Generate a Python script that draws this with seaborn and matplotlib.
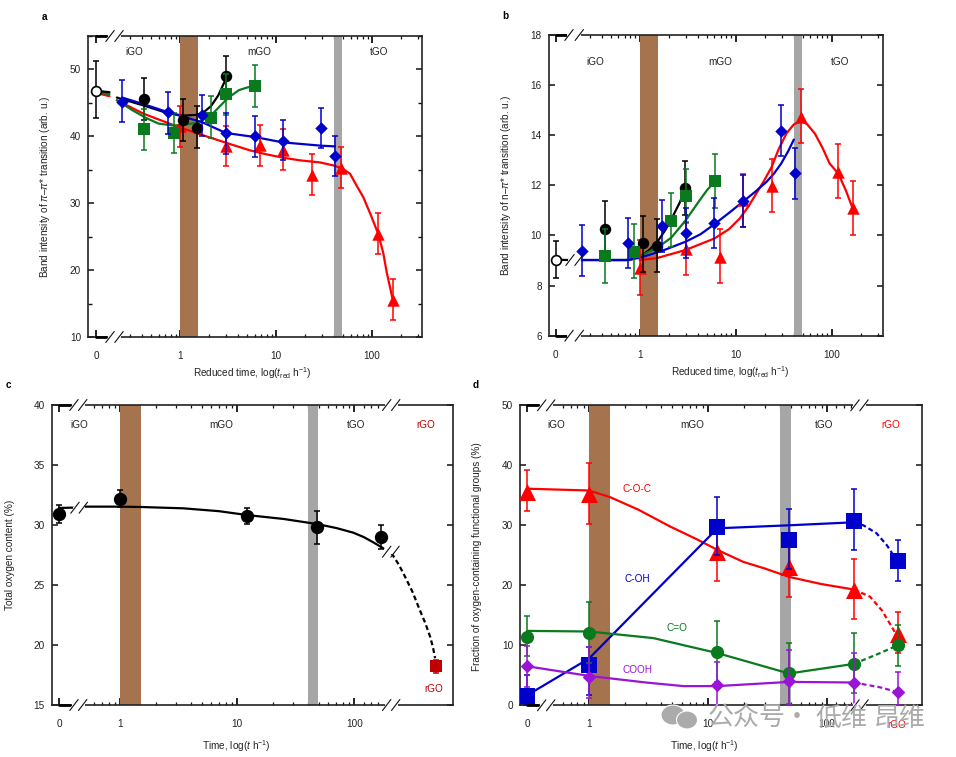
"""Oxygen content and band intensity panels for GO reduction, broken log time axes."""
import numpy as np
import matplotlib.pyplot as plt
import seaborn as sns
from matplotlib.lines import Line2D
from matplotlib.patches import Ellipse

FIG_W, FIG_H = 956, 757
RED, BLUE, GREEN, PURPLE = "#FF0000", "#0000CC", "#0A7A1E", "#9A14D6"
DARK_RED = "#C00000"
BROWN, GRAY = "#A5744F", "#A6A6A6"

# panel a: pi-pi* band
a_open_t, a_open_y, a_open_lo, a_open_hi = [0], [46.8], [42.7], [51.3]
a_black_t = [0.42, 1.07, 1.49, 3]
a_black_y = [45.6, 42.4, 41.3, 49.0]
a_black_lo = [42.5, 39.3, 38.3, 46.0]
a_black_hi = [48.7, 45.6, 44.5, 52.0]
a_green_t = [0.42, 0.87, 2.1, 3, 6]
a_green_y = [41.1, 40.5, 42.8, 46.3, 47.5]
a_green_lo = [38.0, 37.5, 39.8, 43.2, 44.4]
a_green_hi = [44.1, 43.5, 46.1, 49.3, 50.6]
a_blue_t = [0.25, 0.75, 1.7, 3, 6, 11.7, 29.5, 41]
a_blue_y = [45.2, 43.6, 43.2, 40.5, 40.0, 39.3, 41.2, 37.0]
a_blue_lo = [42.1, 40.4, 40.1, 37.3, 36.9, 36.4, 38.2, 34.0]
a_blue_hi = [48.4, 46.6, 46.2, 43.5, 43.1, 42.5, 44.3, 40.1]
a_red_t = [1, 3, 6.8, 11.7, 23.5, 47.4, 116, 164]
a_red_y = [41.5, 38.5, 38.7, 38.0, 34.2, 35.2, 25.4, 15.6]
a_red_lo = [38.4, 35.5, 35.6, 34.9, 31.2, 32.3, 22.4, 12.5]
a_red_hi = [44.6, 41.5, 41.7, 41.1, 37.3, 38.4, 28.6, 18.6]
a_black_curve_t = [0.22, 0.42, 0.73, 1.07, 1.45, 1.73, 2.1, 2.5, 3.1]
a_black_curve_y = [45.8, 44.6, 43.5, 43.1, 43.2, 43.5, 44.5, 46.1, 49.0]
a_green_curve_t = [0.22, 0.32, 0.45, 0.6, 0.87, 1.49, 2.1, 2.6, 3, 3.5, 4.1, 5, 6]
a_green_curve_y = [45.4, 43.9, 42.7, 41.9, 41.6, 42.0, 43.1, 44.5, 45.4, 46.2, 46.9, 47.3, 47.5]
a_blue_curve_t = [0.25, 0.42, 0.75, 1.71, 3, 6, 11.7, 29.5, 41]
a_blue_curve_y = [45.8, 44.8, 43.6, 42.1, 40.5, 39.9, 39.1, 38.6, 38.5]
a_red_curve_t = [0.22, 0.415, 0.92, 1.97, 3.4, 5.36, 8, 11.9, 18, 28.7, 41, 50, 59, 68, 81, 96, 116, 131, 142, 154, 164]
a_red_curve_y = [45.4, 43.4, 41.5, 39.9, 38.8, 37.9, 37.3, 36.8, 36.4, 36.1, 35.6, 35.1, 34.4, 32.8, 30.9, 28.4, 25.4, 22.5, 19.7, 17.4, 15.6]
a_stub_t = [0, 0.16]
a_black_stub_y = [46.8, 46.6]
a_green_stub_y = [46.6, 46.3]
a_red_stub_y = [46.5, 46.0]

# panel b: n-pi* band
b_open_t, b_open_y, b_open_lo, b_open_hi = [0], [9.03], [8.29], [9.76]
b_black_t = [0.43, 1.08, 1.53, 2.99]
b_black_y = [10.27, 9.68, 9.58, 11.88]
b_black_lo = [9.2, 8.55, 8.53, 10.8]
b_black_hi = [11.37, 10.77, 10.67, 12.97]
b_green_t = [0.43, 0.87, 2.14, 3, 6.04]
b_green_y = [9.19, 9.35, 10.59, 11.58, 12.17]
b_green_lo = [8.11, 8.31, 9.52, 10.5, 11.1]
b_green_hi = [10.27, 10.47, 11.68, 12.65, 13.26]
b_blue_t = [0.25, 0.75, 1.72, 3, 6, 11.9, 29.7, 41.5]
b_blue_y = [9.39, 9.68, 10.37, 10.1, 10.5, 11.39, 14.18, 12.49]
b_blue_lo = [8.39, 8.7, 9.35, 9.09, 9.48, 10.35, 13.19, 11.47]
b_blue_hi = [10.41, 10.7, 11.4, 11.1, 11.49, 12.42, 15.19, 13.49]
b_red_t = [1, 3, 6.9, 11.9, 23.7, 47.5, 117, 165]
b_red_y = [8.69, 9.46, 9.16, 11.4, 11.97, 14.74, 12.54, 11.08]
b_red_lo = [7.62, 8.42, 8.11, 10.35, 10.92, 13.71, 11.5, 10.02]
b_red_hi = [9.8, 10.55, 10.27, 12.45, 13.05, 15.85, 13.66, 12.17]
b_stub_t = [0, 0.16]
b_stub_y = [9.03, 9.02]
b_black_curve_t = [0.24, 0.79, 1, 1.25, 1.53, 1.85, 2.2, 2.6, 3]
b_black_curve_y = [9.02, 9.02, 9.15, 9.42, 9.75, 10.22, 10.75, 11.3, 11.88]
b_green_curve_t = [0.43, 0.79, 1, 1.49, 2.14, 3, 4.2, 5, 6]
b_green_curve_y = [9.02, 9.02, 9.19, 9.48, 9.92, 10.6, 11.4, 11.8, 12.14]
b_blue_curve_t = [0.25, 0.72, 1, 1.72, 3, 4.3, 6, 8.5, 11.9, 16, 20.9, 25, 29.7, 35, 40.3]
b_blue_curve_y = [9.02, 9.02, 9.11, 9.39, 9.75, 10.05, 10.45, 10.9, 11.35, 11.75, 12.14, 12.47, 12.87, 13.35, 13.83]
b_red_curve_t = [1, 1.49, 3, 6, 8.5, 11, 13.5, 16.4, 19.8, 23.7, 28, 33.7, 40, 47.5, 55, 66.6, 80, 95, 117, 140, 165]
b_red_curve_y = [9.02, 9.09, 9.42, 9.88, 10.25, 10.68, 11.15, 11.68, 12.2, 12.74, 13.45, 14.07, 14.42, 14.58, 14.45, 14.07, 13.5, 12.87, 12.47, 11.8, 11.08]

# panel c: total oxygen
c_t = [0, 1, 12, 48, 168]
c_y = [30.94, 32.2, 30.78, 29.8, 29.03]
c_lo = [30.19, 31.5, 30.1, 28.4, 28.0]
c_hi = [31.64, 32.9, 31.4, 31.2, 30.03]
c_rgo_t, c_rgo_y, c_rgo_lo, c_rgo_hi = [500], [18.22], [17.64], [18.75]
c_stub_t = [0, 0.307]
c_stub_y = [31.42, 31.45]
c_curve_t = [0.5, 1, 1.5, 3.45, 7, 12.1, 25, 48, 70, 98, 120, 145, 177]
c_curve_y = [31.53, 31.53, 31.5, 31.39, 31.15, 30.83, 30.5, 30.08, 29.75, 29.36, 29.0, 28.56, 28.06]
c_dash_t = [208, 240, 271, 315, 363, 405, 444, 470, 490]
c_dash_y = [27.64, 26.7, 25.7, 24.4, 22.9, 21.8, 20.7, 19.8, 18.9]

# panel d: functional groups
d_t = [0, 1, 12, 48, 168, 393]
d_red_y = [35.6, 35.3, 25.6, 23.0, 19.3, 11.9]
d_red_lo = [32.4, 30.3, 20.8, 18.1, 14.4, 8.8]
d_red_hi = [39.2, 40.4, 30.0, 27.6, 24.4, 15.6]
d_blue_y = [1.5, 6.7, 29.8, 27.5, 30.8, 24.1]
d_blue_lo = [0.0, 1.8, 25.0, 22.8, 25.9, 20.8]
d_blue_hi = [5.0, 9.8, 34.8, 32.7, 36.0, 27.5]
d_green_y = [11.4, 12.05, 8.9, 5.4, 6.9, 10.05]
d_green_lo = [8.2, 7.0, 3.9, 0.3, 2.0, 6.6]
d_green_hi = [14.9, 17.3, 14.05, 10.4, 12.1, 13.4]
d_purple_y = [6.5, 4.8, 3.4, 4.05, 3.8, 2.2]
d_purple_lo = [3.1, 1.2, 0.0, 0.0, 0.0, 0.0]
d_purple_hi = [9.9, 9.8, 7.3, 9.2, 8.8, 5.5]
d_red_curve_t = [0, 1, 1.5, 2.6, 4.8, 8, 12, 19.8, 30, 48, 90, 168]
d_red_curve_y = [36.1, 35.8, 34.7, 32.6, 29.8, 27.7, 25.9, 23.9, 22.8, 21.4, 20.2, 19.3]
d_red_dash_t = [168, 230, 290, 393]
d_red_dash_y = [19.3, 18.1, 15.8, 11.4]
d_blue_curve_t = [0, 1, 12, 48, 168]
d_blue_curve_y = [1.7, 7.8, 29.5, 30.0, 30.5]
d_blue_dash_t = [168, 202, 260, 318, 393]
d_blue_dash_y = [30.5, 30.0, 28.7, 26.7, 23.9]
d_green_curve_t = [0, 1, 3.47, 12, 48, 168]
d_green_curve_y = [12.4, 12.3, 11.2, 8.7, 5.3, 6.9]
d_green_dash_t = [168, 279, 393]
d_green_dash_y = [6.9, 8.7, 10.0]
d_purple_curve_t = [0, 1, 3, 6.2, 12, 48, 168]
d_purple_curve_y = [6.5, 4.9, 3.8, 3.2, 3.2, 3.9, 3.8]
d_purple_dash_t = [168, 279, 393]
d_purple_dash_y = [3.8, 3.0, 2.2]

X_TICKS = [0, 1, 10, 100]
X_TICK_LABELS = ["0", "1", "10", "100"]
MINOR_AB = [.3, .4, .5, .6, .7, .8, .9, 2, 3, 4, 5, 6, 7, 8, 9,
            20, 30, 40, 50, 60, 70, 80, 90, 200, 300]
MINOR_CD = [.6, .7, .8, .9, 2, 3, 4, 5, 6, 7, 8, 9,
            20, 30, 40, 50, 60, 70, 80, 90, 120, 140, 160]

sns.set_theme(style="ticks")
plt.rcParams["font.family"] = ["Liberation Sans", "DejaVu Sans"]
plt.rcParams["mathtext.fontset"] = "custom"
plt.rcParams["mathtext.rm"] = "Liberation Sans"
plt.rcParams["mathtext.it"] = "Liberation Sans:italic"
plt.rcParams["mathtext.bf"] = "Liberation Sans:bold"
plt.rcParams["font.size"] = 7

fig = plt.figure(figsize=(FIG_W / 100, FIG_H / 100), dpi=100, facecolor="white")


def fx(px):
    return px / FIG_W


def fy(py):
    return 1 - py / FIG_H


def break_scale(zero_pos, t_min):
    # t=0 sits left of the log part, linear between 0 and t_min
    p_min = np.log10(t_min)

    def forward(t):
        t = np.asarray(t, dtype=float)
        lin = zero_pos + (p_min - zero_pos) * t / t_min
        return np.where(t < t_min, lin, np.log10(np.maximum(t, t_min)))

    def inverse(p):
        p = np.asarray(p, dtype=float)
        lin = (p - zero_pos) / (p_min - zero_pos) * t_min
        return np.where(p < p_min, lin, 10.0 ** p)

    return forward, inverse


def make_axes(box, zero_pos, t_min, xlim, ylim, yticks, ymin, minor, bands):
    left, top, right, bottom = box
    ax = fig.add_axes([fx(left), fy(bottom), (right - left) / FIG_W, (bottom - top) / FIG_H])
    ax.set_xscale("function", functions=break_scale(zero_pos, t_min))
    ax.set_xlim(*xlim)
    ax.set_ylim(*ylim)
    ax.set_xticks(X_TICKS)
    ax.set_xticklabels(X_TICK_LABELS)
    ax.set_xticks(minor, minor=True)
    ax.set_yticks(yticks)
    ax.set_yticks(ymin, minor=True)
    ax.tick_params(axis="x", which="major", direction="in", top=True, length=5, width=1.3, pad=10, labelsize=7.2, color="#111111")
    ax.tick_params(axis="x", which="minor", direction="in", top=True, length=2.4, width=0.9, color="#111111")
    ax.tick_params(axis="y", which="major", direction="in", right=True, length=4, width=1.1, pad=5, labelsize=7.2, color="#111111")
    ax.tick_params(axis="y", which="minor", direction="in", right=True, length=3, width=1.0, color="#111111")
    ax.xaxis.set_tick_params(labelcolor="#222222")
    ax.yaxis.set_tick_params(labelcolor="#222222")
    for spine in ax.spines.values():
        spine.set_linewidth(1.2)
        spine.set_color("#222222")
    ax.axvspan(bands[0], bands[1], color=BROWN, lw=0, zorder=1)
    ax.axvspan(bands[2], bands[3], color=GRAY, lw=0, zorder=1)
    return ax


def curve(ax, t, y, color, dashed=False, lw=1.6):
    line_style = (0, (2.2, 1.4)) if dashed else "-"
    sns.lineplot(x=t, y=y, ax=ax, color=color, lw=lw, sort=False, estimator=None,
                 errorbar=None, legend=False, linestyle=line_style, zorder=3)


def points(ax, t, y, lo, hi, color, marker, size, face=None, z=4, elw=1.1):
    y_arr = np.array(y)
    yerr = [y_arr - np.array(lo), np.array(hi) - y_arr]
    ax.errorbar(t, y, yerr=yerr, fmt="none", ecolor=color, elinewidth=elw,
                capsize=2, capthick=1.1, zorder=z)
    sns.scatterplot(x=t, y=y, ax=ax, marker=marker, s=size, color=face or color,
                    edgecolor=color, linewidth=1.2 if face else 0, legend=False, zorder=z + 0.5)


def slashes(xs, y, half_w=4.2, half_h=5.5, gap=True):
    if gap:
        fig.add_artist(Line2D([fx(xs[0]), fx(xs[1])], [fy(y), fy(y)], color="white", lw=3, zorder=5))
    for x in xs:
        fig.add_artist(Line2D([fx(x - half_w), fx(x + half_w)], [fy(y + half_h), fy(y - half_h)],
                              color="#111111", lw=0.8, zorder=6))


def thick(x0, x1, y):
    fig.add_artist(Line2D([fx(x0), fx(x1)], [fy(y), fy(y)], color="black", lw=2, zorder=5))


def label(x, y, text, color="#222222", size=7.2, **kw):
    fig.text(fx(x), fy(y), text, color=color, fontsize=size, ha="center", va="center", **kw)


# ---- panel a
ax_a = make_axes((88, 36, 422, 337), -0.875, 0.2, (-0.094, 331), (10, 55),
                 [10, 20, 30, 40, 50], [15, 25, 35, 45, 55], MINOR_AB, (1, 1.54, 40, 49))
ax_a.set_yticklabels(["10", "20", "30", "40", "50"])
curve(ax_a, a_stub_t, a_red_stub_y, RED)
curve(ax_a, a_stub_t, a_green_stub_y, GREEN)
curve(ax_a, a_stub_t, a_black_stub_y, "black")
curve(ax_a, a_red_curve_t, a_red_curve_y, RED)
points(ax_a, a_red_t, a_red_y, a_red_lo, a_red_hi, RED, "^", 80)
curve(ax_a, a_black_curve_t, a_black_curve_y, "black")
points(ax_a, a_black_t, a_black_y, a_black_lo, a_black_hi, "black", "o", 68, z=5)
curve(ax_a, a_green_curve_t, a_green_curve_y, GREEN)
points(ax_a, a_green_t, a_green_y, a_green_lo, a_green_hi, GREEN, "s", 78, z=6)
curve(ax_a, a_blue_curve_t, a_blue_curve_y, BLUE)
points(ax_a, a_blue_t, a_blue_y, a_blue_lo, a_blue_hi, BLUE, "D", 40, z=7)
points(ax_a, a_open_t, a_open_y, a_open_lo, a_open_hi, "black", "o", 50, face="white", z=8)
for py in (36, 337):
    thick(96, 106, py)
    slashes((110, 119), py)
for x, txt in ((134, "iGO"), (259, "mGO"), (379, "tGO")):
    label(x, 52, txt)
label(252, 373, r"Reduced time, log($\it{t}_{\rm red}$ h$^{-1}$)")
label(45, 187, r"Band intensity of $\pi$–$\pi$* transition (arb. u.)", rotation=90)
label(44, 17, "a", color="black", fontweight="bold")

# ---- panel b
ax_b = make_axes((548.7, 35, 882.7, 335.7), -0.875, 0.2, (-0.083, 339), (6, 18),
                 [6, 8, 10, 12, 14, 16, 18], [], MINOR_AB, (1, 1.54, 40, 49))
curve(ax_b, b_stub_t, b_stub_y, "black")
curve(ax_b, b_red_curve_t, b_red_curve_y, RED)
points(ax_b, b_red_t, b_red_y, b_red_lo, b_red_hi, RED, "^", 80)
curve(ax_b, b_black_curve_t, b_black_curve_y, "black")
points(ax_b, b_black_t, b_black_y, b_black_lo, b_black_hi, "black", "o", 68, z=5)
curve(ax_b, b_green_curve_t, b_green_curve_y, GREEN)
points(ax_b, b_green_t, b_green_y, b_green_lo, b_green_hi, GREEN, "s", 78, z=6)
curve(ax_b, b_blue_curve_t, b_blue_curve_y, BLUE)
points(ax_b, b_blue_t, b_blue_y, b_blue_lo, b_blue_hi, BLUE, "D", 40, z=7)
points(ax_b, b_open_t, b_open_y, b_open_lo, b_open_hi, "black", "o", 50, face="white", z=8)
for py in (35, 335.7):
    thick(556, 566, py)
    slashes((569, 579.3), py)
slashes((570, 579), 260, gap=True)
for x, txt in ((595, "iGO"), (720, "mGO"), (840, "tGO")):
    label(x, 62, txt)
label(730.7, 372, r"Reduced time, log($\it{t}_{\rm red}$ h$^{-1}$)")
label(505.7, 185, r"Band intensity of n–$\pi$* transition (arb. u.)", rotation=90)
label(505, 16, "b", color="black", fontweight="bold")

# ---- panel c
ax_c = make_axes((51.7, 405, 453.3, 705), -0.524, 0.5, (-0.139, 701), (15, 40),
                 [15, 20, 25, 30, 35, 40], [], MINOR_CD, (1, 1.51, 40, 48.6))
curve(ax_c, c_stub_t, c_stub_y, "black")
curve(ax_c, c_curve_t, c_curve_y, "black")
curve(ax_c, c_dash_t, c_dash_y, "black", dashed=True)
points(ax_c, c_t, c_y, c_lo, c_hi, "black", "o", 92)
points(ax_c, c_rgo_t, c_rgo_y, c_rgo_lo, c_rgo_hi, DARK_RED, "s", 75)
for py in (405, 705):
    thick(59, 70, py)
    slashes((74, 82.7), py)
    slashes((386.7, 395.7), py)
slashes((75, 83.3), 507.7)
slashes((386.7, 395), 551.7)
for x, txt in ((79, "iGO"), (221, "mGO"), (355.7, "tGO")):
    label(x, 424.7, txt)
label(425.7, 424.7, "rGO", color=DARK_RED)
label(434, 689, "rGO", color=DARK_RED)
label(236, 745.7, r"Time, log($\it{t}$ h$^{-1}$)")
label(10, 555, "Total oxygen content (%)", rotation=90)
label(8, 385, "c", color="black", fontweight="bold")

# ---- panel d
ax_d = make_axes((520, 405.3, 921.7, 705.3), -0.518, 0.5, (-0.143, 625), (0, 50),
                 [0, 10, 20, 30, 40, 50], [], MINOR_CD, (1, 1.5, 40, 49.5))
curve(ax_d, d_red_curve_t, d_red_curve_y, RED)
curve(ax_d, d_red_dash_t, d_red_dash_y, RED, dashed=True)
points(ax_d, d_t, d_red_y, d_red_lo, d_red_hi, RED, "^", 150)
curve(ax_d, d_blue_curve_t, d_blue_curve_y, BLUE)
curve(ax_d, d_blue_dash_t, d_blue_dash_y, BLUE, dashed=True)
points(ax_d, d_t, d_blue_y, d_blue_lo, d_blue_hi, BLUE, "s", 140, z=5)
curve(ax_d, d_green_curve_t, d_green_curve_y, GREEN)
curve(ax_d, d_green_dash_t, d_green_dash_y, GREEN, dashed=True)
points(ax_d, d_t, d_green_y, d_green_lo, d_green_hi, GREEN, "o", 90, z=6)
curve(ax_d, d_purple_curve_t, d_purple_curve_y, PURPLE)
curve(ax_d, d_purple_dash_t, d_purple_dash_y, PURPLE, dashed=True)
points(ax_d, d_t, d_purple_y, d_purple_lo, d_purple_hi, PURPLE, "D", 48, z=7)
for py in (405.3, 705.3):
    thick(527, 538, py)
    slashes((541.7, 550.7), py)
    slashes((855, 864), py)
for x, txt in ((556, "iGO"), (692, "mGO"), (823.7, "tGO")):
    label(x, 425, txt)
label(891, 425, "rGO", color=RED)
label(897, 725, "rGO", color=RED)
label(636.7, 488.7, "C-O-C", color=RED)
label(637, 578.7, "C-OH", color=BLUE)
label(676.7, 628, "C=O", color=GREEN)
label(637.7, 670, "COOH", color=PURPLE)
label(704, 746, r"Time, log($\it{t}$ h$^{-1}$)")
label(477, 556.7, "Fraction of oxygen-containing functional groups (%)", rotation=90)
label(476, 385, "d", color="black", fontweight="bold")

# ---- watermark sitting over panel d
WM_COLOR = "#ABABAB"
for cx, cy, w, h in ((673, 715, 24, 20), (687, 720, 21, 18)):
    fig.add_artist(Ellipse((fx(cx), fy(cy)), w / FIG_W, h / FIG_H, facecolor=WM_COLOR,
                           edgecolor="white", lw=0.8, zorder=7))
for x, txt in ((747, "公众号"), (797, "·"), (841, "低维"), (900, "昂维")):
    fig.text(fx(x), fy(718), txt, color=WM_COLOR, fontsize=18.7, ha="center", va="center",
             family=["Noto Sans CJK SC", "DejaVu Sans"], zorder=7)

fig.savefig("out.png", dpi=100)
